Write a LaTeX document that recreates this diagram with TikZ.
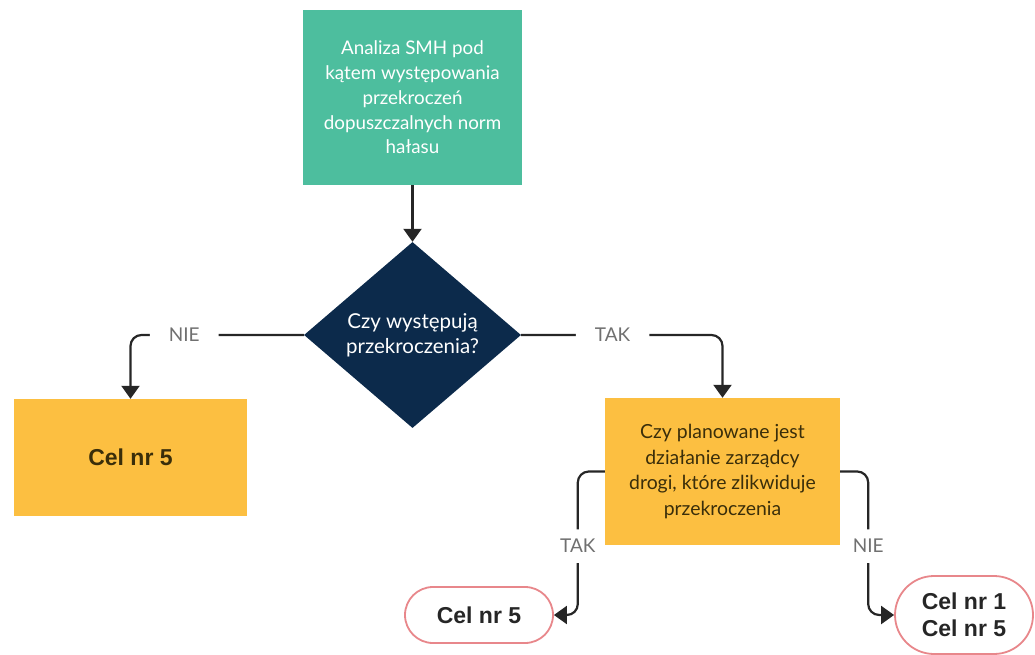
\documentclass[tikz,border=0pt]{standalone}
\usepackage{fontspec}
\setmainfont{Lato}
\newfontfamily\celfont{Liberation Sans}
\usetikzlibrary{shapes.geometric,shapes.misc,arrows.meta}

\definecolor{tealbox}{HTML}{4DBE9E}
\definecolor{navybox}{HTML}{0C2A4B}
\definecolor{yellowbox}{HTML}{FCBF41}
\definecolor{pinkline}{HTML}{E8878B}
\definecolor{arrowdark}{HTML}{262626}
\definecolor{labelgray}{HTML}{707070}
\definecolor{textdark}{HTML}{3A2E0A}

\begin{document}
\begin{tikzpicture}[x=1pt,y=-1pt,
    lbl/.style={fill=white, text=labelgray, font=\fontsize{19}{22}\selectfont, inner xsep=19pt, inner ysep=10pt},
    lblv/.style={lbl, inner xsep=3pt},
    arr/.style={draw=arrowdark, line width=2.2pt, rounded corners=11pt, -{Triangle[width=18pt,length=13pt]}}]

  \useasboundingbox (0,0) rectangle (1035,655);

  \begin{scope}[every node/.style={inner sep=0pt, align=center, font=\fontsize{18.8}{24.7}\selectfont}]
    \node[fill=tealbox, text=white, minimum width=219, minimum height=175] (1) at (412.5,97.5)
      {Analiza SMH pod\\kątem występowania\\przekroczeń\\dopuszczalnych norm\\hałasu};
    \node[diamond, fill=navybox, text=white, minimum width=217, minimum height=186,
      font=\fontsize{20.5}{25}\selectfont] (2) at (412.5,335)
      {Czy występują\\przekroczenia?};
    \node[fill=yellowbox, text=textdark, minimum width=233, minimum height=117,
      font=\celfont\bfseries\fontsize{23}{27}\selectfont] (3) at (130.5,457.5) {Cel nr 5};
    \node[fill=yellowbox, text=textdark, minimum width=235, minimum height=147,
      font=\fontsize{19.4}{25.7}\selectfont] (4) at (722.5,471.5)
      {Czy planowane jest\\działanie zarządcy\\drogi, które zlikwiduje\\przekroczenia};
  \end{scope}

  \begin{scope}[every node/.style={rounded rectangle, draw=pinkline, line width=1.8pt, fill=white,
      text=black!85, align=center, inner sep=0pt, font=\celfont\bfseries\fontsize{23}{27}\selectfont}]
    \node[minimum width=148, minimum height=56] (5) at (479,615) {Cel nr 5};
    \node[minimum width=138, minimum height=78] (6) at (964,615) {Cel nr 1\\Cel nr 5};
  \end{scope}

  \begin{scope}[every edge/.style={arr}]
    \path (1) edge (2);
  \end{scope}

  \draw[arr] (2.west) -| node[lbl, pos=.345] {NIE} (3.north);
  \draw[arr] (2.east) -| node[lbl, pos=.227] {TAK} (4.north);
  \draw[arr] (4.west) -- ++(-27,0) |- node[lblv, pos=.26] {TAK} (5.east);
  \draw[arr] (4.east) -- ++(28,0) |- node[lblv, pos=.26] {NIE} (6.west);

\end{tikzpicture}
\end{document}
